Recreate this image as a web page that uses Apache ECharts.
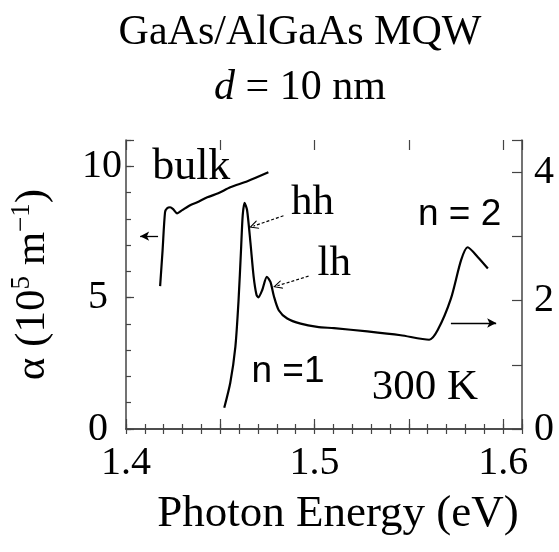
<!DOCTYPE html>
<html>
<head>
<meta charset="utf-8">
<script src="https://cdn.jsdelivr.net/npm/echarts@6/dist/echarts.min.js"></script>
<style>html,body{margin:0;padding:0;background:#fff}#c{width:559px;height:552px}</style>
</head>
<body>
<div id="c"></div>
<script>
// ---- data ----
// bulk GaAs absorption, left axis (10^5 m^-1)
const bulkE = [1.4181, 1.4194, 1.4207, 1.4218, 1.4234, 1.4250, 1.4271, 1.4298, 1.4340, 1.4378, 1.4431, 1.4489, 1.4553, 1.4644, 1.4755];
const bulkA = [5.44, 6.80, 8.25, 8.40, 8.44, 8.37, 8.21, 8.33, 8.52, 8.63, 8.82, 8.97, 9.20, 9.43, 9.77];
// MQW absorption, right axis
const mqwE = [1.4521, 1.4553, 1.4580, 1.4597, 1.4610, 1.4619, 1.4629, 1.4642, 1.4660, 1.4677, 1.4692, 1.4702, 1.4722, 1.4747, 1.4766, 1.4784, 1.4810, 1.4855, 1.4926, 1.5014, 1.5103, 1.5280, 1.5457, 1.5608, 1.5653, 1.5723, 1.5777, 1.5812, 1.5865, 1.5919];
const mqwA = [0.33, 0.72, 1.28, 2.01, 2.79, 3.33, 3.52, 3.41, 2.90, 2.37, 2.09, 2.05, 2.16, 2.37, 2.29, 2.07, 1.85, 1.72, 1.64, 1.59, 1.57, 1.52, 1.46, 1.39, 1.54, 2.03, 2.63, 2.83, 2.68, 2.50];
// axis tick labels
const xLabels = ['1.4', '1.5', '1.6'];
const leftLabels = ['0', '5', '10'];
const rightLabels = ['0', '2', '4'];
// annotations [E, value, text]
const leftNotes = [[1.4346, 9.96, 'bulk']];
const rightNotesSerif = [[1.4989, 3.52, 'hh'], [1.5104, 2.58, 'lh'], [1.5585, 0.65, '300 K']];
const rightNotesSans = [[1.5769, 3.33, 'n = 2'], [1.4859, 0.89, 'n =1']];
// arrows [[E1, v1], [E2, v2]]
const leftArrows = [[[1.4170, 7.34], [1.4075, 7.34]]];
const rightArrowsSolid = [[[1.5723, 1.65], [1.5963, 1.65]]];
const rightArrowsDashed = [[[1.4835, 3.32], [1.4676, 3.16]], [[1.4968, 2.38], [1.4803, 2.23]]];

const SERIF = '"Liberation Serif", "Times New Roman", serif';
const SANS = '"Liberation Sans", Arial, sans-serif';
const AX = '#444';

function pairs(xs, ys) { return xs.map((x, i) => [x, ys[i]]); }
function notes(arr, font, size) {
  return arr.map(n => ({
    name: n[2], coord: [n[0], n[1]],
    label: { show: true, position: 'inside', formatter: '{b}', fontFamily: font, fontSize: size, color: '#000' }
  }));
}
function arrows(arr) { return arr.map(a => [{ coord: a[0] }, { coord: a[1] }]); }
const openArrow = 'path://M5,0 L10,10 L8.6,10 L5,2.6 L1.4,10 L0,10 Z';

const chart = echarts.init(document.getElementById('c'));
const grid = { left: 126, right: 37, top: 140, bottom: 123 };
const xBase = { type: 'value', min: 1.4, max: 1.61, splitLine: { show: false } };
const option = {
  animation: false,
  title: {
    left: 300, top: 5, padding: 0, textAlign: 'center',
    text: '{a|GaAs/AlGaAs MQW}\n{i|d}{a| = 10 nm}',
    textStyle: {
      fontWeight: 'normal',
      rich: {
        a: { fontFamily: SERIF, fontSize: 42, lineHeight: 55, color: '#000', fontWeight: 'normal' },
        i: { fontFamily: SERIF, fontSize: 42, lineHeight: 55, color: '#000', fontWeight: 'normal', fontStyle: 'italic' }
      }
    }
  },
  grid: grid,
  xAxis: [
    Object.assign({}, xBase, {
      position: 'bottom', interval: 0.01,
      axisLine: { show: true, lineStyle: { color: AX, width: 1.5 } },
      axisTick: { show: true, inside: true, length: 5, lineStyle: { color: AX, width: 1.2 } },
      axisLabel: {
        margin: 14, fontFamily: SERIF, fontSize: 40, color: '#000',
        formatter: v => { const s = v.toFixed(1); return (Math.abs(v - parseFloat(s)) < 1e-6 && xLabels.includes(s)) ? s : ''; }
      },
      name: 'Photon Energy (eV)', nameLocation: 'middle', nameGap: 63,
      nameTextStyle: { fontFamily: SERIF, fontSize: 45, color: '#000', padding: [0, 0, 0, 28] }
    }),
    Object.assign({}, xBase, {
      position: 'bottom', interval: 0.05,
      axisLine: { show: false }, axisLabel: { show: false },
      axisTick: { show: true, inside: true, length: 10, lineStyle: { color: AX, width: 1.2 } }
    }),
    Object.assign({}, xBase, {
      position: 'top', interval: 0.01,
      axisLine: { show: true, lineStyle: { color: AX, width: 1.5 } },
      axisLabel: { show: false },
      axisTick: { show: true, inside: true, length: 5, lineStyle: { color: AX, width: 1.2 } }
    }),
    Object.assign({}, xBase, {
      position: 'top', interval: 0.05,
      axisLine: { show: false }, axisLabel: { show: false },
      axisTick: { show: true, inside: true, length: 10, lineStyle: { color: AX, width: 1.2 } }
    })
  ],
  yAxis: [
    {
      type: 'value', position: 'left', min: 0, max: 11, interval: 1, splitLine: { show: false },
      axisLine: { show: true, lineStyle: { color: AX, width: 1.5 } },
      axisTick: { show: true, inside: true, length: 5, lineStyle: { color: AX, width: 1.2 } },
      axisLabel: {
        margin: 4, fontFamily: SERIF, fontSize: 40, color: '#000',
        formatter: v => { const s = String(v); if (!leftLabels.includes(s)) return ''; return s.length > 1 ? s : '{p|' + s + '}'; },
        rich: { p: { fontFamily: SERIF, fontSize: 40, color: '#000', padding: [0, 14, 0, 0] } }
      },
      name: '{a|α (10}{s|5}{a| m}{s|−1}{a|)}', nameLocation: 'middle', nameGap: 72, nameRotate: 90,
      nameTextStyle: {
        rich: {
          a: { fontFamily: SERIF, fontSize: 43, color: '#000', lineHeight: 46, verticalAlign: 'bottom' },
          s: { fontFamily: SERIF, fontSize: 27, color: '#000', lineHeight: 26, verticalAlign: 'top' }
        }
      }
    },
    {
      type: 'value', position: 'right', min: 0, max: 4.5, interval: 1, splitLine: { show: false },
      axisLine: { show: true, lineStyle: { color: AX, width: 1.5 } },
      axisTick: { show: true, inside: true, length: 10, lineStyle: { color: AX, width: 1.2 } },
      axisLabel: {
        margin: 12, fontFamily: SERIF, fontSize: 40, color: '#000',
        formatter: v => rightLabels.includes(String(v)) ? String(v) : ''
      }
    },
    {
      type: 'value', position: 'left', min: 0, max: 11, interval: 5, splitLine: { show: false },
      axisLine: { show: false }, axisLabel: { show: false },
      axisTick: { show: true, inside: true, length: 8, lineStyle: { color: AX, width: 1.2 } }
    }
  ],
  series: [
    {
      name: 'bulk', type: 'line', xAxisIndex: 0, yAxisIndex: 0, data: pairs(bulkE, bulkA),
      smooth: 0.25, showSymbol: false, lineStyle: { color: '#000', width: 2.2 },
      markPoint: { symbol: 'circle', symbolSize: 1, itemStyle: { color: 'rgba(0,0,0,0)' }, data: notes(leftNotes, SERIF, 44), silent: true },
      markLine: {
        silent: true, symbol: ['none', 'arrow'], symbolSize: [7, 9], label: { show: false },
        lineStyle: { color: '#000', width: 1.3, type: 'solid' }, data: arrows(leftArrows)
      }
    },
    {
      name: 'MQW', type: 'line', xAxisIndex: 0, yAxisIndex: 1, data: pairs(mqwE, mqwA),
      smooth: 0.25, showSymbol: false, lineStyle: { color: '#000', width: 2.2 },
      markPoint: {
        symbol: 'circle', symbolSize: 1, itemStyle: { color: 'rgba(0,0,0,0)' }, silent: true,
        data: notes(rightNotesSerif, SERIF, 43).concat(notes(rightNotesSans, SANS, 37))
      },
      markLine: {
        silent: true, symbol: ['none', 'arrow'], symbolSize: [7, 9], label: { show: false },
        lineStyle: { color: '#000', width: 1.3, type: 'solid' }, data: arrows(rightArrowsSolid)
      }
    },
    {
      name: 'MQW-arrows', type: 'line', xAxisIndex: 0, yAxisIndex: 1, data: [],
      markLine: {
        silent: true, symbol: ['none', openArrow], symbolSize: [9, 9], label: { show: false },
        lineStyle: { color: '#000', width: 1.2, type: [3, 2] }, itemStyle: { color: '#000' }, data: arrows(rightArrowsDashed)
      }
    }
  ]
};
chart.setOption(option);
</script>
</body>
</html>
